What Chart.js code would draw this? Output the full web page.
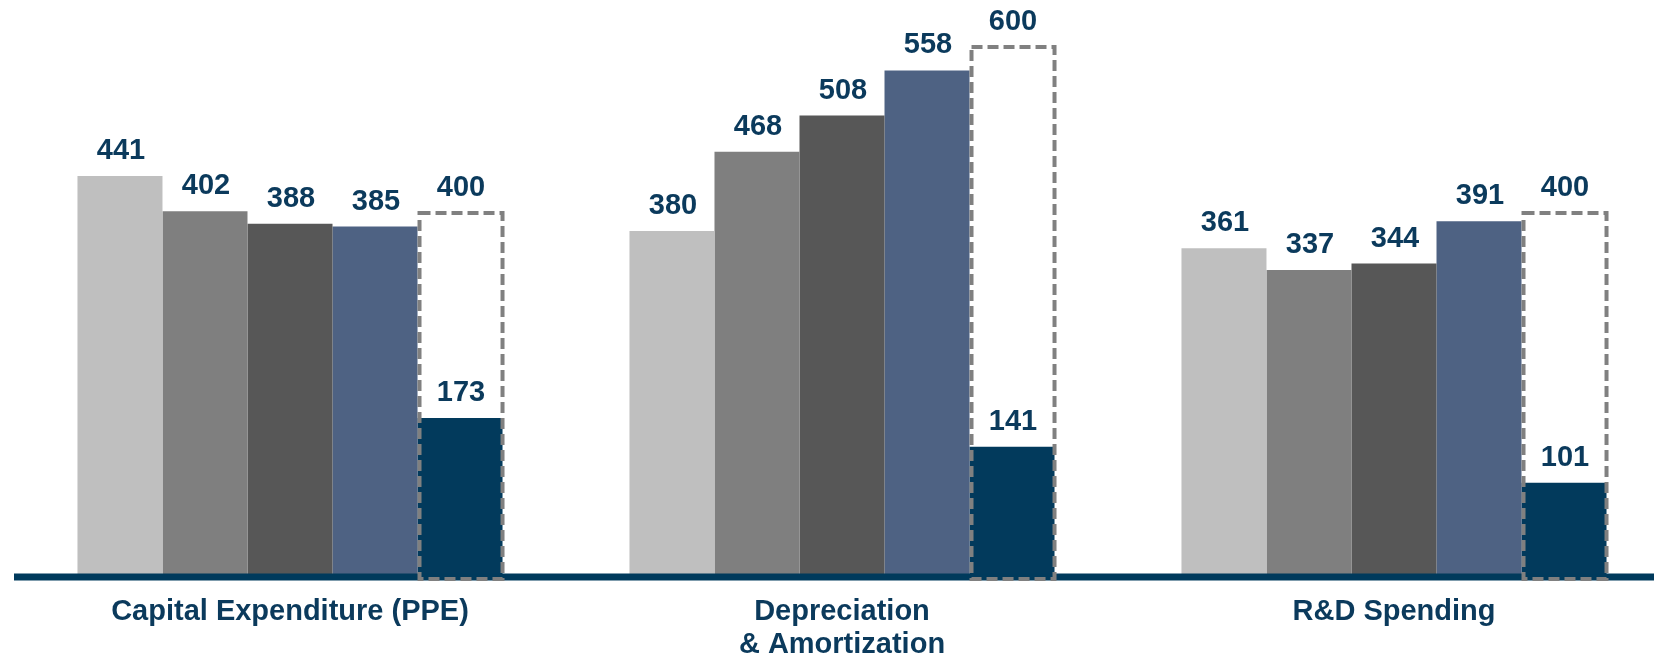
<!DOCTYPE html>
<html>
<head>
<meta charset="utf-8">
<script src="https://cdn.jsdelivr.net/npm/chart.js@4.4.1/dist/chart.umd.min.js"></script>
<style>
  html, body { margin: 0; padding: 0; background: #ffffff; overflow: hidden; }
  .chart-wrapper { width: 1670px; height: 657px; }
</style>
</head>
<body>
<div class="chart-wrapper">
  <canvas id="chart-0" width="1670" height="657"></canvas>
</div>
<script>
const categories = ["Capital Expenditure (PPE)", ["Depreciation", "& Amortization"], "R&D Spending"];
const seriesNames = ["Period 1", "Period 2", "Period 3", "Period 4", "Current", "Target"];
const period1 = [441, 380, 361];
const period2 = [402, 468, 337];
const period3 = [388, 508, 344];
const period4 = [385, 558, 391];
const current = [173, 141, 101];
const target = [400, 600, 400];

const navy = "#0b3a5c";
const labelFont = "bold 29px 'Liberation Sans', Arial, sans-serif";

// axis line, dashed target boxes and value labels
const overlay = {
  id: "overlay",
  afterDatasetsDraw(chart) {
    const ctx = chart.ctx;
    const area = chart.chartArea;
    ctx.save();
    ctx.fillStyle = "#003a5c";
    ctx.fillRect(area.left, area.bottom - 0.5, chart.width - area.left, 7);

    const targetMeta = chart.getDatasetMeta(5);
    ctx.strokeStyle = "#808080";
    ctx.lineWidth = 4;
    ctx.setLineDash([11, 5]);
    targetMeta.data.forEach((el) => {
      const top = Math.max(el.y, area.top);
      const left = el.x - el.width / 2 + 2;
      const right = el.x + el.width / 2;
      ctx.strokeRect(left, top, right - left, el.base + 5 - top);
    });
    ctx.setLineDash([]);

    ctx.fillStyle = navy;
    ctx.font = labelFont;
    ctx.textAlign = "center";
    ctx.textBaseline = "alphabetic";
    chart.data.datasets.forEach((ds, i) => {
      const meta = chart.getDatasetMeta(i);
      meta.data.forEach((el, j) => {
        const top = Math.max(el.y, area.top);
        ctx.fillText(String(ds.data[j]), el.x + 1, top - 17);
      });
    });
    ctx.restore();
  }
};

function barSet(label, data, color, stack) {
  return {
    label: label,
    data: data,
    backgroundColor: color,
    borderWidth: 0,
    stack: stack,
    categoryPercentage: 0.77,
    barPercentage: 1.0
  };
}

new Chart(document.getElementById("chart-0"), {
  type: "bar",
  data: {
    labels: categories,
    datasets: [
      barSet(seriesNames[0], period1, "#bfbfbf", "a"),
      barSet(seriesNames[1], period2, "#7f7f7f", "b"),
      barSet(seriesNames[2], period3, "#575757", "c"),
      barSet(seriesNames[3], period4, "#4e6283", "d"),
      barSet(seriesNames[4], current, "#023a5c", "e"),
      barSet(seriesNames[5], target, "rgba(0,0,0,0)", "e")
    ]
  },
  plugins: [overlay],
  options: {
    responsive: false,
    animation: false,
    layout: { padding: { top: 47, left: 14, right: 0, bottom: 0 } },
    plugins: {
      legend: { display: false },
      tooltip: { enabled: false }
    },
    scales: {
      x: {
        stacked: true,
        grid: { display: false, drawTicks: false },
        border: { display: false },
        afterFit: (scale) => { scale.height = 83; },
        ticks: {
          color: navy,
          padding: 21,
          maxRotation: 0,
          autoSkip: false,
          font: { family: "'Liberation Sans', Arial, sans-serif", size: 29, weight: "bold", lineHeight: 1.15 }
        }
      },
      y: {
        display: false,
        stacked: false,
        min: 0,
        max: 584
      }
    }
  }
});
</script>
</body>
</html>
